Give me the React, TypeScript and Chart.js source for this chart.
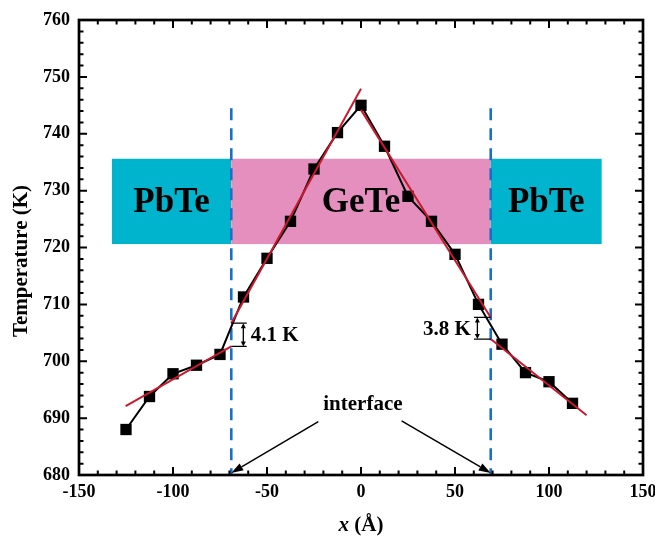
import React, { useEffect, useRef } from "react";
import { Chart, registerables } from "chart.js";

Chart.register(...registerables);

// ---- data ----
const positions = [-125, -112.5, -100, -87.5, -75, -62.5, -50, -37.5, -25, -12.5, 0, 12.5, 25, 37.5, 50, 62.5, 75, 87.5, 100, 112.5];
const temperatures = [688, 693.8, 697.8, 699.3, 701.2, 711.3, 718.1, 724.6, 733.8, 740.2, 745, 737.8, 729, 724.6, 718.8, 710, 703, 698, 696.4, 692.6];

// linear fits (end points)
const fitLeftPbTeX = [-125.2, -69];
const fitLeftPbTeY = [692.1, 702.6];
const fitLeftGeTeX = [-69, 0];
const fitLeftGeTeY = [706.7, 747.9];
const fitRightGeTeX = [0, 69];
const fitRightGeTeY = [744.2, 707.7];
const fitRightPbTeX = [69, 120];
const fitRightPbTeY = [703.9, 690.5];

// interfaces
const interfaceX = [-69, 69];
const interfaceYRange = [744.5, 680];

// material regions
const regionNames = ["PbTe", "GeTe", "PbTe"];
const regionBounds = [-132.5, -69, 69, 128];
const regionBand = [720.6, 735.6];

// axis
const xMin = -150, xMax = 150, xStep = 50, xMinor = 10;
const yMin = 680, yMax = 760, yStep = 10, yMinor = 2;

// annotations
const gapLabels = ["4.1 K", "3.8 K"];
const gapLow = [702.6, 703.9];
const gapHigh = [706.7, 707.7];
const gapBracketX = [[-69, -60.8], [60.1, 69]];
const gapArrowX = [-62.6, 61.9];
const gapTextX = [-58.6, 58.4];
const gapTextAlign: CanvasTextAlign[] = ["left", "right"];

const interfaceLabel = "interface";
const interfaceLabelPos = [1, 692.3];
const interfaceArrowStart = [[-22.7, 689.4], [21.6, 689.5]];
const interfaceArrowEnd = [[-69, 680], [69, 680]];

const FONT = "'Liberation Serif', 'Times New Roman', serif";

function pts(xs: number[], ys: number[]) {
  return xs.map((x, i) => ({ x, y: ys[i] }));
}

const decoPlugin = {
  id: "deco",
  beforeDatasetsDraw(chart: any) {
    const { ctx, scales } = chart;
    const x = scales.x, y = scales.y;
    const colors = ["#00b4cd", "#e58fbe", "#00b4cd"];
    const yt = y.getPixelForValue(regionBand[1]);
    const yb = y.getPixelForValue(regionBand[0]);
    ctx.save();
    for (let i = 0; i < regionNames.length; i++) {
      const xl = x.getPixelForValue(regionBounds[i]);
      const xr = x.getPixelForValue(regionBounds[i + 1]);
      ctx.fillStyle = colors[i];
      ctx.fillRect(xl, yt, xr - xl, yb - yt);
      ctx.fillStyle = "#000";
      ctx.font = `bold 35px ${FONT}`;
      ctx.textAlign = "center";
      ctx.textBaseline = "middle";
      ctx.fillText(regionNames[i], (xl + xr) / 2, (yt + yb) / 2 + 2);
    }
    ctx.restore();
  },
  afterDatasetsDraw(chart: any) {
    const { ctx, scales, chartArea } = chart;
    const x = scales.x, y = scales.y;
    ctx.save();
    ctx.strokeStyle = "#000";
    ctx.fillStyle = "#000";

    // gap brackets
    for (let i = 0; i < gapLabels.length; i++) {
      const x1 = x.getPixelForValue(gapBracketX[i][0]);
      const x2 = x.getPixelForValue(gapBracketX[i][1]);
      const yl = y.getPixelForValue(gapLow[i]);
      const yh = y.getPixelForValue(gapHigh[i]);
      ctx.lineWidth = 1.3;
      ctx.beginPath();
      ctx.moveTo(x1, yl); ctx.lineTo(x2, yl);
      ctx.moveTo(x1, yh); ctx.lineTo(x2, yh);
      const ax = x.getPixelForValue(gapArrowX[i]);
      ctx.moveTo(ax, yh + 3); ctx.lineTo(ax, yl - 3);
      ctx.stroke();
      // arrow heads
      ctx.beginPath();
      ctx.moveTo(ax, yh); ctx.lineTo(ax - 2.5, yh + 5); ctx.lineTo(ax + 2.5, yh + 5); ctx.closePath();
      ctx.moveTo(ax, yl); ctx.lineTo(ax - 2.5, yl - 5); ctx.lineTo(ax + 2.5, yl - 5); ctx.closePath();
      ctx.fill();
      ctx.font = `bold 21px ${FONT}`;
      ctx.textAlign = gapTextAlign[i];
      ctx.textBaseline = "middle";
      ctx.fillText(gapLabels[i], x.getPixelForValue(gapTextX[i]), (yl + yh) / 2 + 1);
    }

    // interface label and arrows
    ctx.font = `bold 21px ${FONT}`;
    ctx.textAlign = "center";
    ctx.textBaseline = "middle";
    ctx.fillText(interfaceLabel, x.getPixelForValue(interfaceLabelPos[0]), y.getPixelForValue(interfaceLabelPos[1]));
    for (let i = 0; i < interfaceArrowStart.length; i++) {
      const sx = x.getPixelForValue(interfaceArrowStart[i][0]);
      const sy = y.getPixelForValue(interfaceArrowStart[i][1]);
      const ex = x.getPixelForValue(interfaceArrowEnd[i][0]);
      const ey = y.getPixelForValue(interfaceArrowEnd[i][1]) - 2;
      const ang = Math.atan2(ey - sy, ex - sx);
      const hl = 12, hw = 4;
      const bx = ex - hl * Math.cos(ang), by = ey - hl * Math.sin(ang);
      ctx.lineWidth = 1.5;
      ctx.beginPath();
      ctx.moveTo(sx, sy); ctx.lineTo(bx, by);
      ctx.stroke();
      ctx.beginPath();
      ctx.moveTo(ex, ey);
      ctx.lineTo(bx + hw * Math.sin(ang), by - hw * Math.cos(ang));
      ctx.lineTo(bx - hw * Math.sin(ang), by + hw * Math.cos(ang));
      ctx.closePath();
      ctx.fill();
    }

    // frame and inward ticks
    const { left, right, top, bottom } = chartArea;
    ctx.lineWidth = 2;
    ctx.beginPath();
    for (let v = xMin; v <= xMax + 1e-9; v += xMinor) {
      const px = x.getPixelForValue(v);
      const len = Math.abs(v % xStep) < 1e-9 ? 8 : 4.5;
      ctx.moveTo(px, bottom); ctx.lineTo(px, bottom - len);
      ctx.moveTo(px, top); ctx.lineTo(px, top + len);
    }
    for (let v = yMin; v <= yMax + 1e-9; v += yMinor) {
      const py = y.getPixelForValue(v);
      const len = Math.abs(v % yStep) < 1e-9 ? 8 : 4.5;
      ctx.moveTo(left, py); ctx.lineTo(left + len, py);
      ctx.moveTo(right, py); ctx.lineTo(right - len, py);
    }
    ctx.stroke();
    ctx.lineWidth = 2.7;
    ctx.strokeRect(left, top, right - left, bottom - top);

    // axis titles
    ctx.save();
    ctx.translate(22, 261);
    ctx.rotate(-Math.PI / 2);
    ctx.font = `bold 21px ${FONT}`;
    ctx.textAlign = "center";
    ctx.textBaseline = "middle";
    ctx.fillText("Temperature (K)", 0, 0);
    ctx.restore();

    const part1 = "x";
    const part2 = " (Å)";
    ctx.font = `italic bold 21px ${FONT}`;
    const w1 = ctx.measureText(part1).width;
    ctx.font = `bold 21px ${FONT}`;
    const w2 = ctx.measureText(part2).width;
    const cx = (left + right) / 2;
    const startX = cx - (w1 + w2) / 2;
    ctx.textAlign = "left";
    ctx.textBaseline = "alphabetic";
    ctx.font = `italic bold 21px ${FONT}`;
    ctx.fillText(part1, startX, 531);
    ctx.font = `bold 21px ${FONT}`;
    ctx.fillText(part2, startX + w1, 531);

    ctx.restore();
  },
};

export default function App() {
  const ref = useRef<HTMLCanvasElement | null>(null);
  useEffect(() => {
    if (!ref.current) return;
    const red = "#c8192f";
    const blue = "#1a6fc4";
    const fitDs = (xs: number[], ys: number[]) => ({
      type: "line" as const,
      data: pts(xs, ys),
      borderColor: red,
      borderWidth: 2,
      pointRadius: 0,
      order: 1,
    });
    const chart = new Chart(ref.current, {
      type: "line",
      data: {
        datasets: [
          fitDs(fitLeftPbTeX, fitLeftPbTeY),
          fitDs(fitLeftGeTeX, fitLeftGeTeY),
          fitDs(fitRightGeTeX, fitRightGeTeY),
          fitDs(fitRightPbTeX, fitRightPbTeY),
          {
            data: pts(positions, temperatures),
            borderColor: "#000",
            backgroundColor: "#000",
            borderWidth: 2,
            pointStyle: "rect",
            pointRadius: 8,
            pointBackgroundColor: "#000",
            pointBorderWidth: 0,
            order: 2,
          },
          ...interfaceX.map((ix) => ({
            data: pts([ix, ix], interfaceYRange),
            borderColor: blue,
            borderWidth: 2.6,
            borderDash: [12, 8],
            pointRadius: 0,
            order: 3,
          })),
        ] as any,
      },
      options: {
        animation: false,
        responsive: false,
        devicePixelRatio: 1,
        layout: { padding: { top: 20, right: 12, left: 0, bottom: 0 } },
        plugins: { legend: { display: false }, tooltip: { enabled: false } },
        elements: { line: { tension: 0 } },
        scales: {
          x: {
            type: "linear",
            min: xMin,
            max: xMax,
            grid: { display: false, drawTicks: false },
            border: { display: false },
            ticks: {
              stepSize: xStep,
              padding: 7,
              color: "#000",
              font: { family: FONT, size: 18, weight: "bold" },
              maxRotation: 0,
            },
            afterFit: (s: any) => {
              s.height = 62;
              s.paddingLeft = 0;
              s.paddingRight = 0;
            },
          },
          y: {
            type: "linear",
            min: yMin,
            max: yMax,
            grid: { display: false, drawTicks: false },
            border: { display: false },
            ticks: {
              stepSize: yStep,
              padding: 9,
              color: "#000",
              font: { family: FONT, size: 18, weight: "bold" },
            },
            afterFit: (s: any) => {
              s.width = 79;
              s.paddingTop = 0;
              s.paddingBottom = 0;
            },
          },
        },
      } as any,
      plugins: [decoPlugin],
    });
    return () => chart.destroy();
  }, []);
  return (
    <div style={{ position: "absolute", left: 0, top: 0, width: 655, height: 537, background: "#fff" }}>
      <canvas ref={ref} width={655} height={537} style={{ display: "block" }} />
    </div>
  );
}
